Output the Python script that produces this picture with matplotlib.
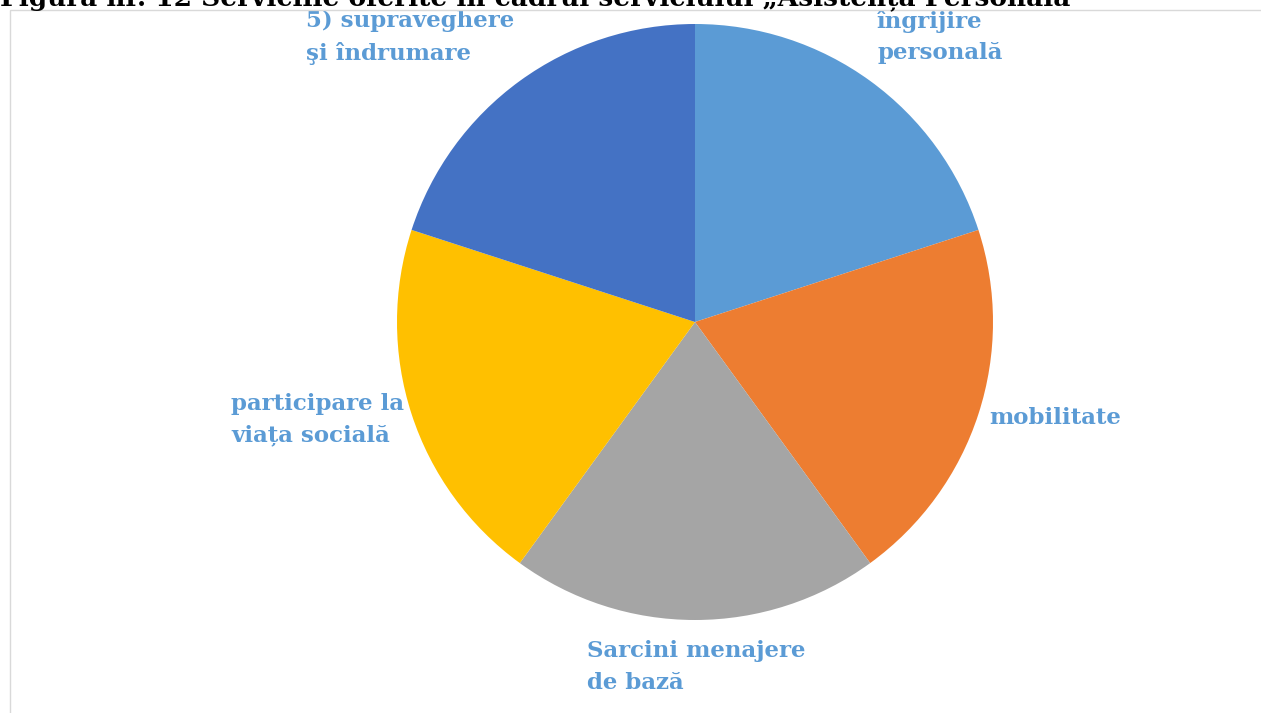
import matplotlib.pyplot as plt
from matplotlib.patches import Rectangle

# data
categories = ['îngrijire\npersonală', 'mobilitate', 'Sarcini menajere\nde bază',
              'participare la\nviața socială', '5) supraveghere\nşi îndrumare']
values = [1, 1, 1, 1, 1]
colors = ['#5B9BD5', '#ED7D31', '#A5A5A5', '#FFC000', '#4472C4']
title = 'Figura nr. 12 Serviciile oferite în cadrul serviciului „Asistența Personală"'

# label anchor (left edge, centre) in pie radius units
label_pos = [(0.611, 0.956), (0.987, -0.322), (-0.362, -1.158),
             (-1.557, -0.329), (-1.305, 0.956)]

W, H = 1261, 713
fig = plt.figure(figsize=(W / 100, H / 100), dpi=100)

# chart frame
fig.patches.append(Rectangle((10 / W, -0.01), 1.0, (H - 10) / H + 0.01,
                             transform=fig.transFigure, fill=False,
                             edgecolor='#d9d9d9', linewidth=1))

# title, cut at the top edge
fig.text(0, (H - 5) / H, title, fontsize=19, fontweight='bold',
         family='DejaVu Serif', color='black', ha='left', va='baseline')

cx, cy, r = 695, 322, 298
ax = fig.add_axes([(cx - r) / W, (H - cy - r) / H, 2 * r / W, 2 * r / H])
ax.pie(values, colors=colors, startangle=90, counterclock=False,
       radius=1, wedgeprops=dict(linewidth=0))
ax.set_xlim(-1, 1)
ax.set_ylim(-1, 1)
ax.set_aspect('equal')
ax.axis('off')

for lab, (x, y) in zip(categories, label_pos):
    ax.text(x, y, lab, ha='left', va='center', fontsize=16.5, fontweight='bold',
            family='DejaVu Serif', color='#5B9BD5', linespacing=1.55,
            clip_on=False)

fig.savefig('out.png', dpi=100)
